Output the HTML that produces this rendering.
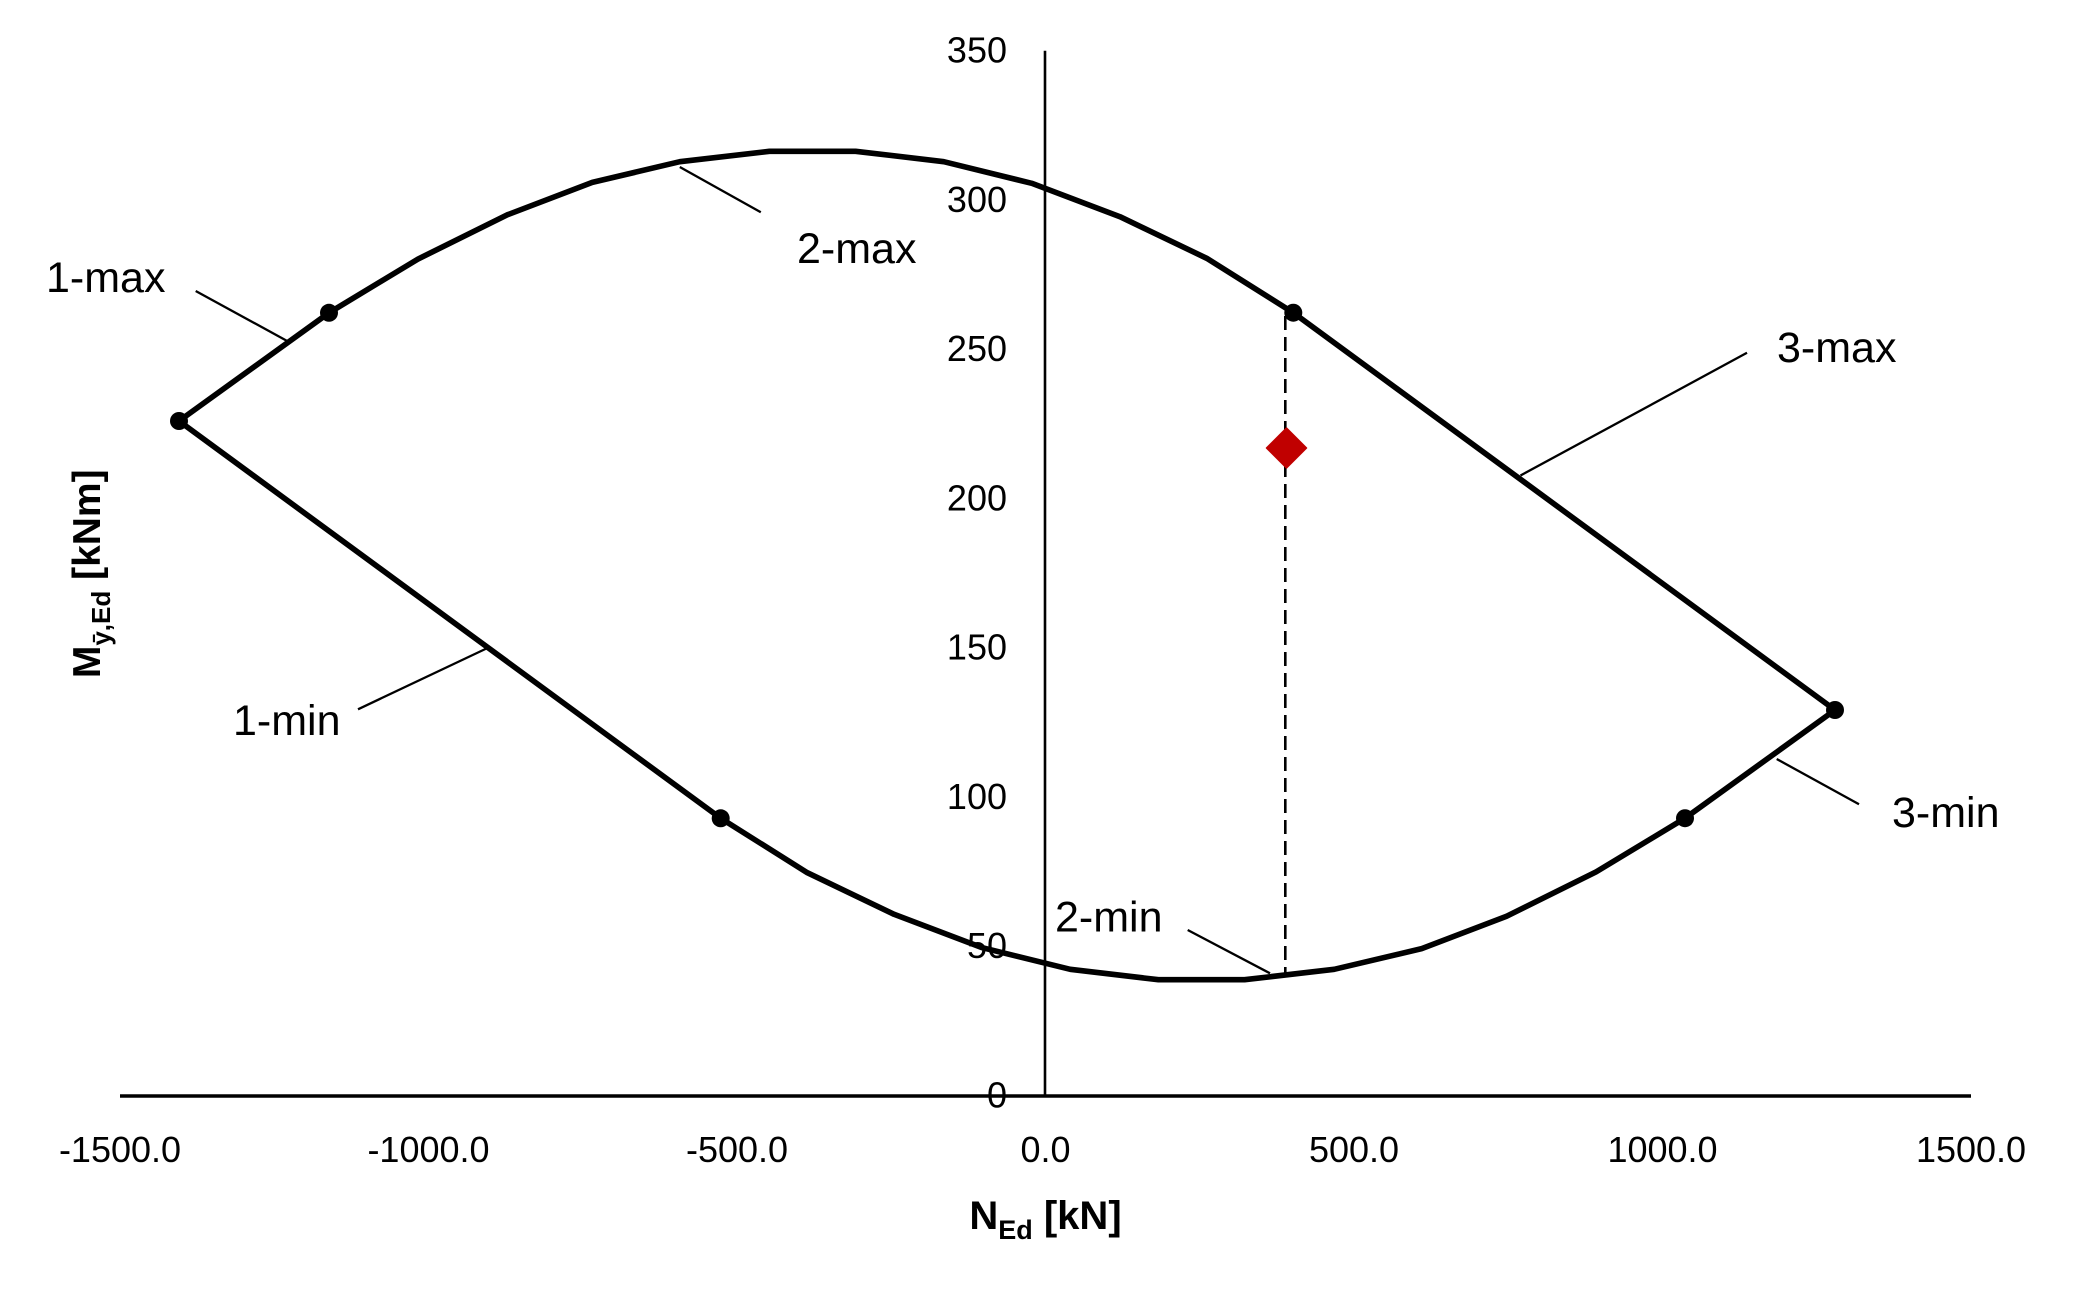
<!DOCTYPE html>
<html>
<head>
<meta charset="utf-8">
<style>
  html, body { margin: 0; padding: 0; background: #ffffff; }
  svg { display: block; }
  text { font-family: "Liberation Sans", "DejaVu Sans", sans-serif; fill: #000; }
</style>
</head>
<body>
<svg width="2079" height="1300" viewBox="0 0 2079 1300" xmlns="http://www.w3.org/2000/svg">
  <rect x="0" y="0" width="2079" height="1300" fill="#ffffff"/>

  <!-- Axes -->
  <line x1="1045" y1="50.7" x2="1045" y2="1096" stroke="#000" stroke-width="2.6"/>
  <line x1="120" y1="1096" x2="1971" y2="1096" stroke="#000" stroke-width="3.4"/>

  <!-- Y tick labels -->
  <g font-size="36" text-anchor="end">
    <text x="1007" y="62.5">350</text>
    <text x="1007" y="211.8">300</text>
    <text x="1007" y="361.1">250</text>
    <text x="1007" y="510.4">200</text>
    <text x="1007" y="659.6">150</text>
    <text x="1007" y="808.9">100</text>
    <text x="1007" y="958.2">50</text>
    <text x="1007" y="1107.5">0</text>
  </g>

  <!-- X tick labels -->
  <g font-size="36" text-anchor="middle">
    <text x="120" y="1162">-1500.0</text>
    <text x="428.5" y="1162">-1000.0</text>
    <text x="737" y="1162">-500.0</text>
    <text x="1045.5" y="1162">0.0</text>
    <text x="1354" y="1162">500.0</text>
    <text x="1662.5" y="1162">1000.0</text>
    <text x="1971" y="1162">1500.0</text>
  </g>

  <!-- Dashed vertical line -->
  <line x1="1285.3" y1="316" x2="1285.3" y2="975" stroke="#000" stroke-width="2.6" stroke-dasharray="14 7"/>

  <!-- Upper curve -->
  <polyline fill="none" stroke="#000" stroke-width="5.6" stroke-linejoin="round" stroke-linecap="round"
    points="179,421 329,312.8 417.9,259.1 507.4,214.8 592.3,182.4 679.8,161.7 769.4,151.3 855.6,151.3 943.8,161.7 1031.7,183.3 1120,216.7 1206.7,258.3 1293.3,312.7 1835,710"/>
  <!-- Lower curve (point-symmetric) -->
  <polyline fill="none" stroke="#000" stroke-width="5.6" stroke-linejoin="round" stroke-linecap="round"
    points="1835,710 1685,818.2 1596.1,871.9 1506.6,916.2 1421.7,948.6 1334.2,969.3 1244.6,979.7 1158.4,979.7 1070.2,969.3 982.3,947.7 894,914.3 807.3,872.7 720.7,818.3 179,421"/>

  <!-- Markers -->
  <g fill="#000">
    <circle cx="179" cy="421" r="9"/>
    <circle cx="329" cy="312.8" r="9"/>
    <circle cx="1293.3" cy="312.7" r="9"/>
    <circle cx="1835" cy="710" r="9"/>
    <circle cx="1685" cy="818.2" r="9"/>
    <circle cx="720.7" cy="818.3" r="9"/>
  </g>

  <!-- Red diamond -->
  <polygon points="1286.5,428 1306.5,448 1286.5,468 1266.5,448" fill="#C00000" stroke="#C00000" stroke-width="1.5" stroke-linejoin="round"/>

  <!-- Leader lines -->
  <g stroke="#000" stroke-width="2.3">
    <line x1="195.7" y1="291" x2="286.7" y2="340.7"/>
    <line x1="679.8" y1="167" x2="760.8" y2="212.3"/>
    <line x1="1520.5" y1="475.5" x2="1747" y2="352.8"/>
    <line x1="358" y1="709.3" x2="487.5" y2="648"/>
    <line x1="1776.7" y1="759" x2="1859" y2="804.3"/>
    <line x1="1187.7" y1="930" x2="1270" y2="973.3"/>
  </g>

  <!-- Series labels -->
  <g font-size="43">
    <text x="46" y="292">1-max</text>
    <text x="797" y="263">2-max</text>
    <text x="1777" y="362">3-max</text>
    <text x="233" y="735">1-min</text>
    <text x="1892" y="827">3-min</text>
    <text x="1055" y="931.5">2-min</text>
  </g>

  <!-- X axis title -->
  <text x="1045.5" y="1229" font-size="40" font-weight="bold" text-anchor="middle">N<tspan font-size="27" dy="10">Ed</tspan><tspan font-size="40" dy="-10"> [kN]</tspan></text>

  <!-- Y axis title -->
  <text transform="translate(100,573.8) rotate(-90)" font-size="39" font-weight="bold" text-anchor="middle">M<tspan font-size="26" dy="10">ȳ,Ed</tspan><tspan font-size="39" dy="-10"> [kNm]</tspan></text>
</svg>
</body>
</html>
